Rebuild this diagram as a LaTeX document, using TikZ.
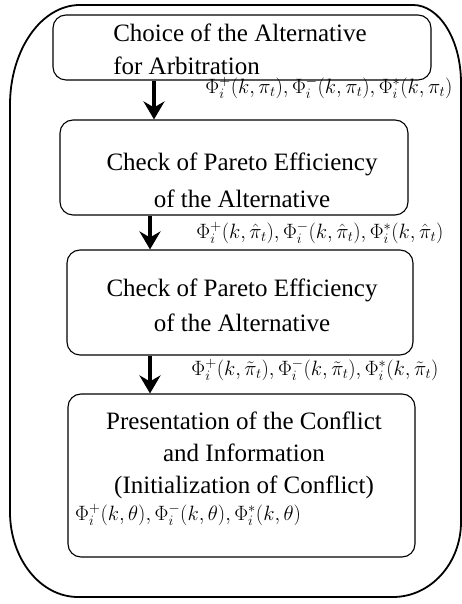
\documentclass[tikz,border=0pt]{standalone}
\usepackage{fontspec}
\setmainfont{Liberation Serif}
\usetikzlibrary{arrows.meta}
\begin{document}
\begin{tikzpicture}[x=1pt,y=1pt,
  frame/.style={line width=1.8pt},
  stepbox/.style={draw,line width=1.1pt,rounded corners=13pt,inner sep=0pt},
  txt/.style={font=\fontsize{25}{34}\selectfont,align=center,inner sep=0pt},
  lbl/.style={font=\fontsize{22}{26}\selectfont,inner sep=0pt},
  arr/.style={line width=3.2pt,-{Stealth[length=18pt,width=21pt,inset=6pt]}}]
\useasboundingbox (0,0) rectangle (462,604);
% outer frame
\draw[frame] (10,499) arc[start angle=180,end angle=90,x radius=70,y radius=100]
  -- (413,599) arc[start angle=90,end angle=0,x radius=48,y radius=78]
  -- (461,82) arc[start angle=0,end angle=-90,x radius=68,y radius=75]
  -- (78,7) arc[start angle=270,end angle=180,x radius=68,y radius=85]
  -- cycle;
% boxes
\node[stepbox,minimum width=378pt,minimum height=65pt] (box1) at (242,556.5) {};
\node[stepbox,minimum width=348pt,minimum height=95pt] (box2) at (234,436.5) {};
\node[stepbox,minimum width=346pt,minimum height=105pt] (box3) at (240,301.5) {};
\node[stepbox,minimum width=347pt,minimum height=163pt] (box4) at (241.5,128.5) {};
% texts
\node[txt,align=left,font=\fontsize{25}{33}\selectfont] (t1) at (240,554.5) {Choice of the Alternative\\for Arbitration};
\node[txt,font=\fontsize{25}{37}\selectfont] (t2) at (242,424) {Check of Pareto Efficiency\\of the Alternative};
\node[txt,font=\fontsize{25}{35}\selectfont] (t3) at (242,298.5) {Check of Pareto Efficiency\\of the Alternative};
\node[txt,font=\fontsize{25}{32}\selectfont] (t4) at (244,149) {Presentation of the Conflict\\and Information\\(Initialization of Conflict)};
\node[lbl,anchor=west] (m4) at (75,89) {$\Phi_i^{+}(k,\theta),\Phi_i^{-}(k,\theta),\Phi_i^{*}(k,\theta)$};
% labels
\node[lbl] (l1) at (329,516) {$\Phi_i^{+}(k,\pi_t),\Phi_i^{-}(k,\pi_t),\Phi_i^{*}(k,\pi_t)$};
\node[lbl] (l2) at (320,371) {$\Phi_i^{+}(k,\hat{\pi}_t),\Phi_i^{-}(k,\hat{\pi}_t),\Phi_i^{*}(k,\hat{\pi}_t)$};
\node[lbl] (l3) at (315,234) {$\Phi_i^{+}(k,\tilde{\pi}_t),\Phi_i^{-}(k,\tilde{\pi}_t),\Phi_i^{*}(k,\tilde{\pi}_t)$};
% arrows
\coordinate (x1) at (154,0);
\coordinate (x2) at (150,0);
\draw[arr] (box1.south -| x1) -- (box2.north -| x1);
\draw[arr] (box2.south -| x2) -- (box3.north -| x2);
\draw[arr] (box3.south -| x2) -- (box4.north -| x2);
\end{tikzpicture}
\end{document}
